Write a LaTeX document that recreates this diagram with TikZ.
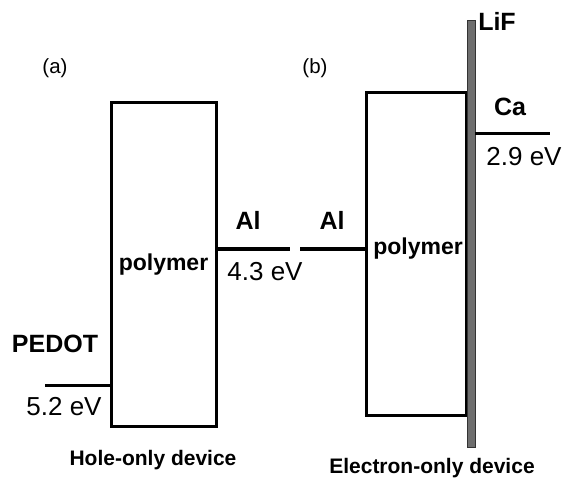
\documentclass[tikz,border=0pt]{standalone}
\usepackage{fontspec}
\setmainfont{Liberation Sans}
\usepackage{tikz}
\usetikzlibrary{positioning}
\definecolor{lifgray}{HTML}{6E6E6E}
\tikzset{
  bandbox/.style={
    draw=black, line width=3pt, fill=white, inner sep=0pt},
  lifbar/.style={
    draw=black!80, line width=0.8pt, fill=lifgray, inner sep=0pt,
    minimum width=8pt, minimum height=427pt},
  level/.style={line width=3pt, color=black},
  metal/.style={font=\fontsize{25}{28}\selectfont\bfseries, inner sep=0pt},
  evlabel/.style={font=\fontsize{26}{29}\selectfont, inner sep=0pt},
  polylabel/.style={font=\fontsize{23}{26}\selectfont\bfseries, inner sep=0pt},
  panel/.style={font=\fontsize{20.5}{23}\selectfont, inner sep=0pt},
  devcap/.style={font=\fontsize{21}{24}\selectfont\bfseries, inner sep=0pt},
}

\begin{document}
\begin{tikzpicture}[x=1pt, y=1pt]
  \useasboundingbox (0,0) rectangle (563,483);
  % (a) hole-only device
  \node[bandbox, polylabel, minimum width=105pt, minimum height=323pt]
    (polyA) at (163.5,218.5) {polymer};
  \coordinate (pedotL) at (45,98);
  \coordinate (alAR) at (290,234);
  \draw[level] (pedotL) -- (pedotL -| polyA.west);
  \draw[level] (polyA.east |- alAR) -- (alAR);
  \node[panel] (labA) at (55,415) {(a)};
  \node[metal] (pedot) at (55,139) {PEDOT};
  \node[evlabel] (evPedot) at (64,76) {5.2 eV};
  \node[metal] (alA) at (248,263) {Al};
  \node[evlabel] (evAl) at (265,211) {4.3 eV};
  \node[devcap] (capA) at (153,23) {Hole-only device};
  % (b) electron-only device
  \node[bandbox, minimum width=100pt, minimum height=322pt]
    (polyB) at (416,229) {};
  \node[polylabel] (polyBtxt) at (418,234) {polymer};
  \node[lifbar] (lif) at (471,249.5) {};
  \coordinate (alBL) at (300,234);
  \coordinate (caR) at (550,349);
  \draw[level] (alBL) -- (alBL -| polyB.west);
  \draw[level] (lif.east |- caR) -- (caR);
  \node[panel] (labB) at (315,415) {(b)};
  \node[metal] (alB) at (332,263) {Al};
  \node[metal] (lifTxt) at (497,461.5) {LiF};
  \node[metal] (ca) at (510,376) {Ca};
  \node[evlabel] (evCa) at (524,326) {2.9 eV};
  \node[devcap] (capB) at (432,15) {Electron-only device};
\end{tikzpicture}
\end{document}
